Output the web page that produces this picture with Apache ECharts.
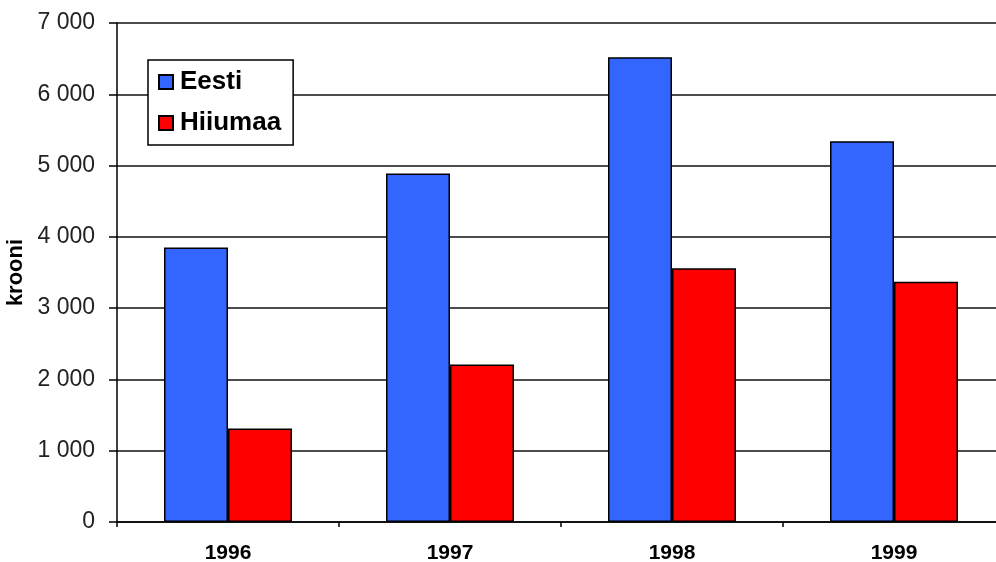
<!DOCTYPE html>
<html lang="et">
<head>
    <meta charset="UTF-8">
    <title>krooni</title>
    <script src="https://cdn.jsdelivr.net/npm/echarts@6/dist/echarts.min.js"></script>
    <style>
        html, body { margin: 0; padding: 0; background: #fff; }
        #chart { width: 996px; height: 562px; }
    </style>
</head>
<body>
<div id="chart"></div>
<script>
    // andmed
    var years = ['1996', '1997', '1998', '1999'];
    var eesti = [3850, 4890, 6520, 5340];
    var hiiumaa = [1310, 2210, 3560, 3370];
    var seriesNames = ['Eesti', 'Hiiumaa'];
    var axisName = 'krooni';

    function withSpaces(v) {
        return String(v).replace(/\B(?=(\d{3})+(?!\d))/g, ' ');
    }

    var myChart = echarts.init(document.getElementById('chart'), null, { renderer: 'canvas' });
    var font = 'Liberation Sans, Arial, sans-serif';
    var option = {
        backgroundColor: '#fff',
        animation: false,
        grid: {
            left: 117,
            top: 23,
            width: 888,
            height: 499,
            containLabel: false,
            outerBoundsMode: 'none'
        },
        legend: {
            data: seriesNames,
            orient: 'vertical',
            left: 148,
            top: 60,
            padding: [9, 12, 9, 10],
            itemGap: 15,
            itemWidth: 14,
            itemHeight: 14,
            icon: 'rect',
            backgroundColor: '#fff',
            borderColor: '#000',
            borderWidth: 1.5,
            borderRadius: 0,
            textStyle: {
                fontFamily: font,
                fontSize: 26,
                fontWeight: 'bold',
                color: '#000',
                padding: [0, 0, 0, 2]
            }
        },
        xAxis: {
            type: 'category',
            data: years,
            boundaryGap: true,
            axisLine: { lineStyle: { color: '#000', width: 1.5 } },
            axisTick: { show: true, length: 5, lineStyle: { color: '#000', width: 1.5 } },
            axisLabel: {
                margin: 21,
                fontFamily: font,
                fontSize: 21,
                fontWeight: 'bold',
                color: '#000'
            }
        },
        yAxis: {
            type: 'value',
            min: 0,
            max: 7000,
            interval: 1000,
            name: axisName,
            nameLocation: 'middle',
            nameGap: 85,
            nameRotate: 90,
            nameTextStyle: {
                fontFamily: font,
                fontSize: 22,
                fontWeight: 'bold',
                color: '#000'
            },
            axisLine: { show: true, lineStyle: { color: '#000', width: 1.5 } },
            axisTick: { show: true, inside: false, length: 8, lineStyle: { color: '#000', width: 1.5 } },
            axisLabel: {
                margin: 22,
                fontFamily: font,
                fontSize: 23,
                color: '#222',
                formatter: withSpaces
            },
            splitLine: { show: true, lineStyle: { color: '#111', width: 1.5 } }
        },
        series: [
            {
                name: seriesNames[0],
                type: 'bar',
                data: eesti,
                barWidth: 64,
                barGap: '0%',
                itemStyle: { color: '#3366FF', borderColor: '#000', borderWidth: 1.5 }
            },
            {
                name: seriesNames[1],
                type: 'bar',
                data: hiiumaa,
                barWidth: 64,
                barGap: '0%',
                itemStyle: { color: '#FF0000', borderColor: '#000', borderWidth: 1.5 }
            }
        ]
    };
    myChart.setOption(option, true);
</script>
</body>
</html>
